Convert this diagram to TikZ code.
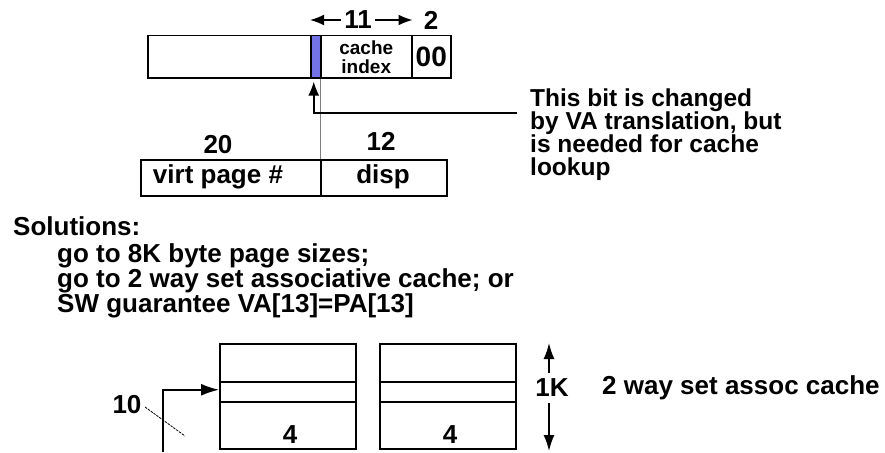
\documentclass[tikz,border=0pt]{standalone}
\usepackage{fontspec}
\setmainfont{Liberation Sans}
\usetikzlibrary{arrows.meta}
\definecolor{bitblue}{RGB}{115,115,230}
\begin{document}
\begin{tikzpicture}[x=1pt,y=-1pt,
  box/.style={draw,line width=1.5pt,inner sep=0pt,anchor=north west},
  lbl/.style={font=\fontsize{26}{23}\selectfont\bfseries,inner sep=0pt},
  tip/.style={-{Latex[length=14pt,width=11pt]}},
  lead/.style={line width=1.6pt},
]
\useasboundingbox[fill=white] (0,0) rectangle (885,452);

% address fields
\node[box,minimum width=163pt,minimum height=42pt] (addrL) at (147,35) {};
\node[box,fill=bitblue,minimum width=10pt,minimum height=42pt] (bit) at (310,35) {};
\node[box,minimum width=91pt,minimum height=42pt,align=center,
      font=\fontsize{19}{19}\selectfont\bfseries] (cidx) at (320,35) {cache\\index};
\node[box,minimum width=39pt,minimum height=42pt,
      font=\fontsize{28}{28}\selectfont\bfseries] (zero) at (411,35) {00};

% widths above
\node[lbl] (n11) at (358,20) {11};
\node[lbl] (n2) at (431,20) {2};
\draw[lead,tip] ([xshift=-3pt]n11.west) -- (n11.west -| bit.west);
\draw[lead,tip] ([xshift=3pt]n11.east) -- (n11.east -| cidx.east);

% virtual address
\node[box,minimum width=180pt,minimum height=36pt] (vpn) at (140,159) {};
\node[box,minimum width=126pt,minimum height=36pt] (disp) at (320,159) {};
\node[lbl] (vpnt) at (218,177) {virt page \#};
\node[lbl] (dispt) at (383,177) {disp};
\node[lbl] (n20) at (218,145) {20};
\node[lbl] (n12) at (381,141) {12};
\draw[gray,line width=0.8pt] (cidx.south west) -- (disp.north west);

% note
\node[lbl,anchor=north west,align=left,font=\fontsize{24.5}{23}\selectfont\bfseries]
  (note) at (530,89) {This bit is changed\\by VA translation, but\\is needed for cache\\lookup};
\coordinate (leadend) at (517,113);
\draw[lead,tip] (leadend) -| ([xshift=-2pt,yshift=-3pt]bit.south);

% solutions
\node[lbl,anchor=base west] (sol) at (13,235) {Solutions:};
\node[lbl,anchor=north west,align=left,font=\fontsize{26}{23}\selectfont\bfseries]
  (sols) at (57,243) {go to 8K byte page sizes;\\go to 2 way set associative cache; or\\SW guarantee VA[13]=PA[13]};

% cache ways
\foreach \n/\x in {a/219,b/379}{
  \node[box,minimum width=136pt,minimum height=38pt] (\n top) at (\x,343) {};
  \node[box,minimum width=136pt,minimum height=20pt] (\n row) at (\x,381) {};
  \node[box,minimum width=136pt,minimum height=47pt] (\n bot) at (\x,401) {};
}
\node[lbl] (fa) at (290,435) {4};
\node[lbl] (fb) at (450,435) {4};

% index arrow
\coordinate (tenfoot) at (163,452);
\draw[lead,-{Latex[length=18pt,width=12pt]}] (tenfoot) |- ([yshift=2pt]arow.west);
\node[lbl] (n10) at (127,405) {10};
\coordinate (tenA) at (145,407);
\coordinate (tenB) at (185,436);
\draw[line width=0.8pt,dash pattern=on 2.5pt off 1pt] (tenA) -- (tenB);

% 1K
\node[lbl] (k1) at (552,388) {1K};
\coordinate (ktop) at (549,343);
\coordinate (kupt) at (549,373);
\coordinate (kbot) at (549,451);
\coordinate (kdnt) at (549,403);
\draw[lead,-{Latex[length=16pt,width=11pt]}] (kupt) -- (ktop);
\draw[lead,-{Latex[length=16pt,width=11pt]}] (kdnt) -- (kbot);
\node[lbl,anchor=west] (assoc) at (602,388) {2 way set assoc cache};
\end{tikzpicture}
\end{document}
